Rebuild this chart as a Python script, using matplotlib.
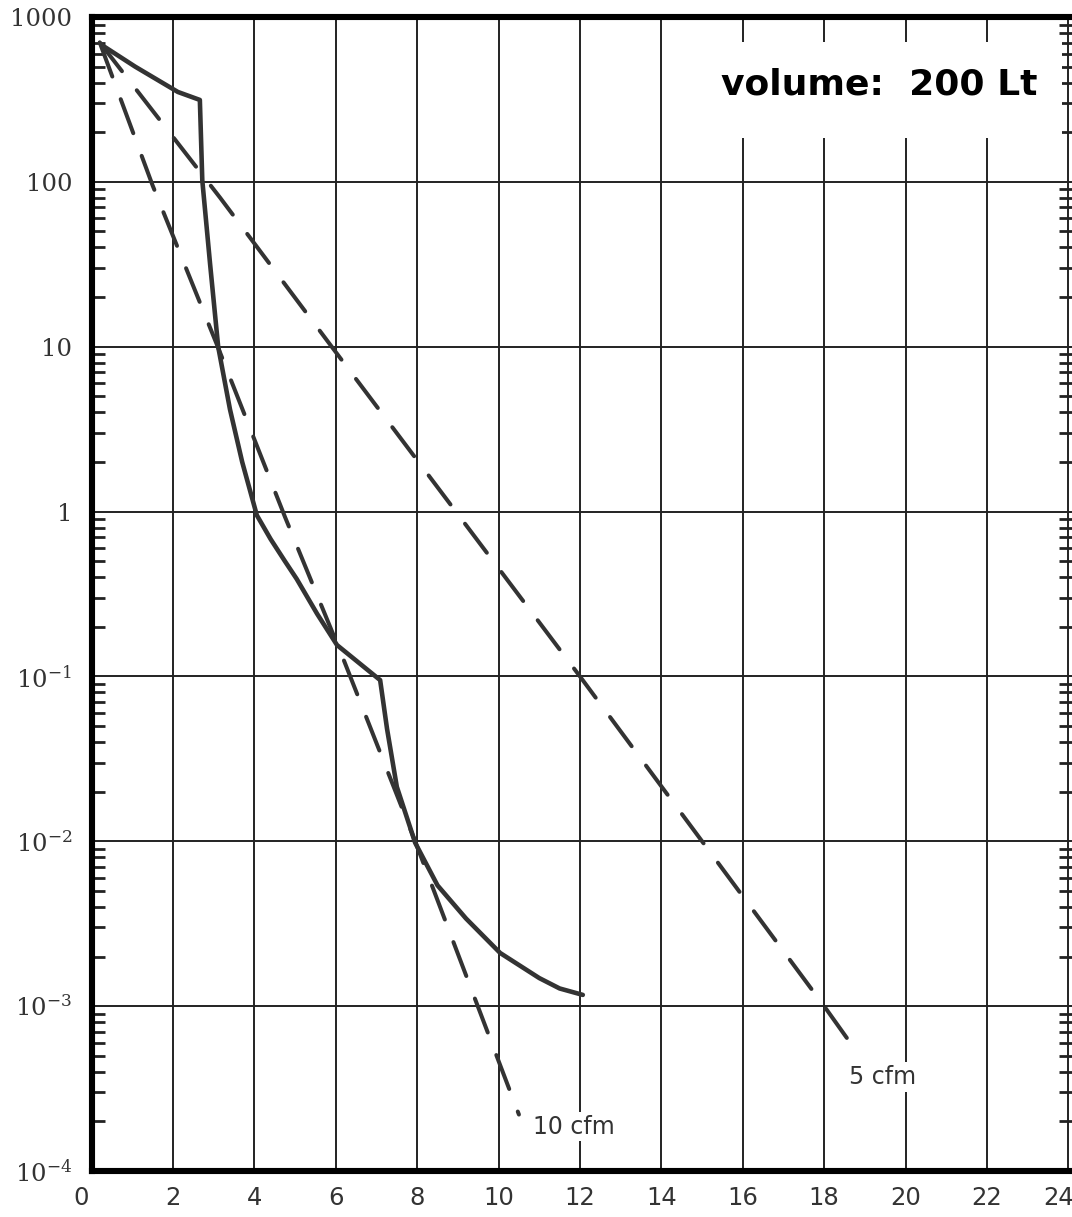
import matplotlib
matplotlib.use("Agg")
import matplotlib.pyplot as plt
from matplotlib.ticker import LogLocator, FixedLocator, NullFormatter
from matplotlib.patches import Rectangle
from matplotlib.transforms import ScaledTranslation

# ---- data ----
solid_x = [0.25, 1.07, 2.12, 2.66, 2.72, 2.91, 3.11, 3.40, 3.70, 4.06, 4.40, 4.75, 5.04,
           5.54, 6.03, 7.09, 7.26, 7.50, 7.95, 8.50, 9.20, 10.04, 11.0, 11.5, 12.07]
solid_y = [676, 500, 351, 314, 102, 32, 10, 4.17, 2.0, 0.95, 0.68, 0.50, 0.39,
           0.24, 0.155, 0.095, 0.048, 0.0214, 0.0098, 0.0054, 0.0034, 0.0021, 0.00148,
           0.00128, 0.00117]

cfm10_x = [0.2, 1.5, 3.1, 4.75, 6.2, 7.95, 10.5]
cfm10_y = [700, 95, 10, 0.93, 0.125, 0.01, 2.2e-4]

cfm5_x = [0.2, 3.16, 5.9, 12.0, 18.0, 18.75]
cfm5_y = [700, 80, 10, 0.1, 0.001, 5.5e-4]

x_ticks = [0, 2, 4, 6, 8, 10, 12, 14, 16, 18, 20, 22, 24]
x_tick_labels = [str(v) for v in x_ticks]
y_ticks = [1e3, 1e2, 1e1, 1, 1e-1, 1e-2, 1e-3, 1e-4]
y_tick_labels = ["1000", "100", "10", "1", r"$10^{-1}$", r"$10^{-2}$", r"$10^{-3}$", r"$10^{-4}$"]

title_text = "volume:  200 Lt"
label_5 = "5 cfm"
label_10 = "10 cfm"

# ---- figure ----
plt.rcParams['mathtext.fontset'] = 'dejavuserif'
W, H = 1072, 1217
fig = plt.figure(figsize=(W / 100, H / 100), dpi=100)
fig.patch.set_facecolor('white')
left = 91.6 / W
bottom = (H - 1171) / H
top = (H - 17) / H
ax = fig.add_axes([left, bottom, 1.0 - left, top - bottom])

ax.set_yscale('log')
ax.set_xlim(0, 24.09)
ax.set_ylim(1e-4, 1e3)

ink = '#333333'
ax.plot(solid_x, solid_y, color=ink, lw=3.3, solid_capstyle='round',
        solid_joinstyle='round', zorder=4)
ax.plot(cfm10_x, cfm10_y, color=ink, lw=2.9, linestyle=(0, (9, 6)),
        dash_capstyle='round', zorder=4)
ax.plot(cfm5_x, cfm5_y, color=ink, lw=2.9, linestyle=(0, (9, 6)),
        dash_capstyle='round', zorder=4)

# grid
ax.xaxis.set_major_locator(FixedLocator(x_ticks))
ax.set_xticklabels(x_tick_labels)
ax.yaxis.set_major_locator(FixedLocator(y_ticks))
ax.set_yticklabels(y_tick_labels)
ax.yaxis.set_minor_locator(LogLocator(base=10, subs=[2, 3, 4, 5, 6, 7, 8, 9]))
ax.yaxis.set_minor_formatter(NullFormatter())
ax.grid(True, which='major', color='#222222', lw=1.4)
ax.set_axisbelow(True)

ax.tick_params(axis='both', which='major', length=0)
ax.tick_params(axis='y', which='major', pad=14, labelsize=17.5, labelcolor=ink)
ax.tick_params(axis='x', which='major', pad=11, labelsize=17.5, labelcolor=ink)
ax.tick_params(axis='y', which='minor', direction='in', length=9.5, width=2.0,
               color='#222222', left=True, right=True)
for lab in ax.get_yticklabels():
    lab.set_family('DejaVu Serif')
shift = ScaledTranslation(-10 / 100, 0, fig.dpi_scale_trans)
xlabs = ax.get_xticklabels()
for lab in (xlabs[0], xlabs[-1]):
    lab.set_transform(lab.get_transform() + shift)

for s in ['left', 'bottom', 'top']:
    ax.spines[s].set_linewidth(4.4)
    ax.spines[s].set_color('black')
ax.spines['right'].set_visible(False)

# white patch behind the volume label (interrupts grid)
ax.add_patch(Rectangle((0.62, 0.895), 0.37, 0.083, transform=ax.transAxes,
                       facecolor='white', edgecolor='none', zorder=2))
ax.text(19.35, 387, title_text, fontsize=26, fontweight='bold', color='black',
        ha='center', va='center', family='DejaVu Sans', zorder=5)

ax.text(18.6, 3.7e-4, label_5, fontsize=17, color=ink, ha='left', va='center',
        family='DejaVu Sans', zorder=5,
        bbox=dict(facecolor='white', edgecolor='none', pad=2))
ax.text(10.85, 1.86e-4, label_10, fontsize=17, color=ink, ha='left', va='center',
        family='DejaVu Sans', zorder=5,
        bbox=dict(facecolor='white', edgecolor='none', pad=2))

fig.savefig('out.png', dpi=100, facecolor='white')
